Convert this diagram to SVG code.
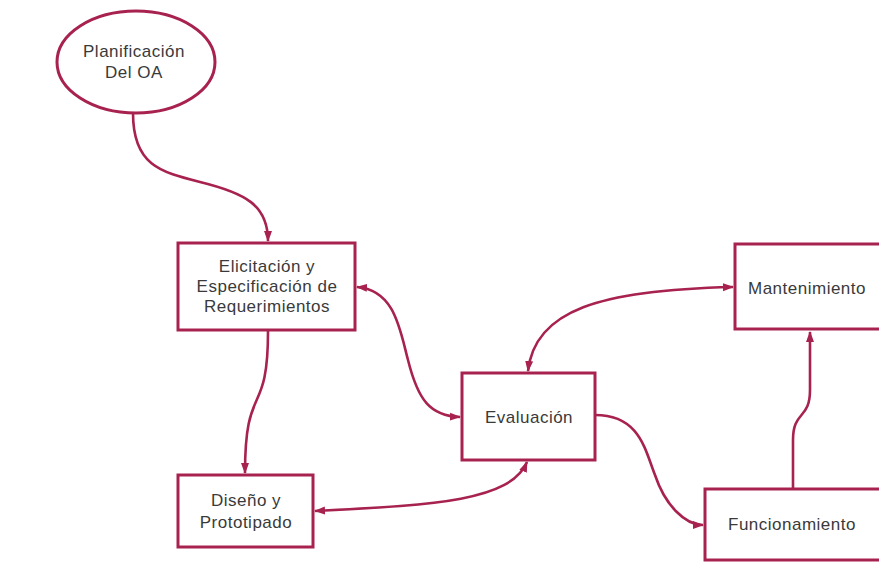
<svg xmlns="http://www.w3.org/2000/svg" width="879" height="580" viewBox="0 0 879 580">
<style>
.node{fill:#ffffff;stroke:#a8224f;stroke-width:3}
.lbl{font-family:"Liberation Sans",Arial,sans-serif;font-size:17px;letter-spacing:0.5px;fill:#3a3a3a;text-anchor:middle}
.lbs{font-family:"Liberation Sans",Arial,sans-serif;font-size:17px;letter-spacing:0.5px;fill:#3a3a3a}
.con{fill:none;stroke:#a8224f;stroke-width:2.6}
</style>
<defs>
<marker id="ah" markerUnits="userSpaceOnUse" markerWidth="12" markerHeight="10" refX="10" refY="5" orient="auto-start-reverse" viewBox="0 0 12 10">
<path d="M0,1 L11,5 L0,9 Z" fill="#a8224f"/>
</marker>
</defs>
<rect width="879" height="580" fill="#ffffff"/>
<g id="connectors">
<path class="con" d="M133,113 C133,165 160,172 200,182 C245,193 268,205 268,241" marker-end="url(#ah)"/>
<path class="con" d="M268,331 C268,420 245,380 245,473" marker-end="url(#ah)"/>
<path class="con" d="M357,287 C395,290 400,330 408,360 C418,400 430,416 460,417" marker-start="url(#ah)" marker-end="url(#ah)"/>
<path class="con" d="M315,511 C430,505 510,502 527,462" marker-start="url(#ah)" marker-end="url(#ah)"/>
<path class="con" d="M528,371 C535,310 600,290 733,287" marker-start="url(#ah)" marker-end="url(#ah)"/>
<path class="con" d="M595,415 C640,415 645,450 655,475 C665,505 685,525 703,525" marker-end="url(#ah)"/>
<path class="con" d="M793,489 L793,440 C793,410 810,420 810,390 L810,332" marker-end="url(#ah)"/>
</g>
<g id="planificacion">
<ellipse class="node" cx="136" cy="62" rx="79" ry="51"/>
<text class="lbl" x="134" y="57">Planificación</text>
<text class="lbl" x="134" y="78">Del OA</text>
</g>
<g id="elicitacion">
<rect class="node" x="178" y="243" width="177" height="87"/>
<text class="lbl" x="267" y="272">Elicitación y</text>
<text class="lbl" x="267" y="292">Especificación de</text>
<text class="lbl" x="267" y="312">Requerimientos</text>
</g>
<g id="diseno">
<rect class="node" x="178" y="475" width="135" height="72"/>
<text class="lbl" x="246" y="506">Diseño y</text>
<text class="lbl" x="246" y="528">Prototipado</text>
</g>
<g id="evaluacion">
<rect class="node" x="462" y="373" width="133" height="87"/>
<text class="lbl" x="529" y="423">Evaluación</text>
</g>
<g id="mantenimiento">
<rect class="node" x="735" y="244" width="170" height="85"/>
<text class="lbs" x="748" y="294">Mantenimiento</text>
</g>
<g id="funcionamiento">
<rect class="node" x="705" y="489" width="200" height="71"/>
<text class="lbs" x="728" y="530">Funcionamiento</text>
</g>
</svg>
